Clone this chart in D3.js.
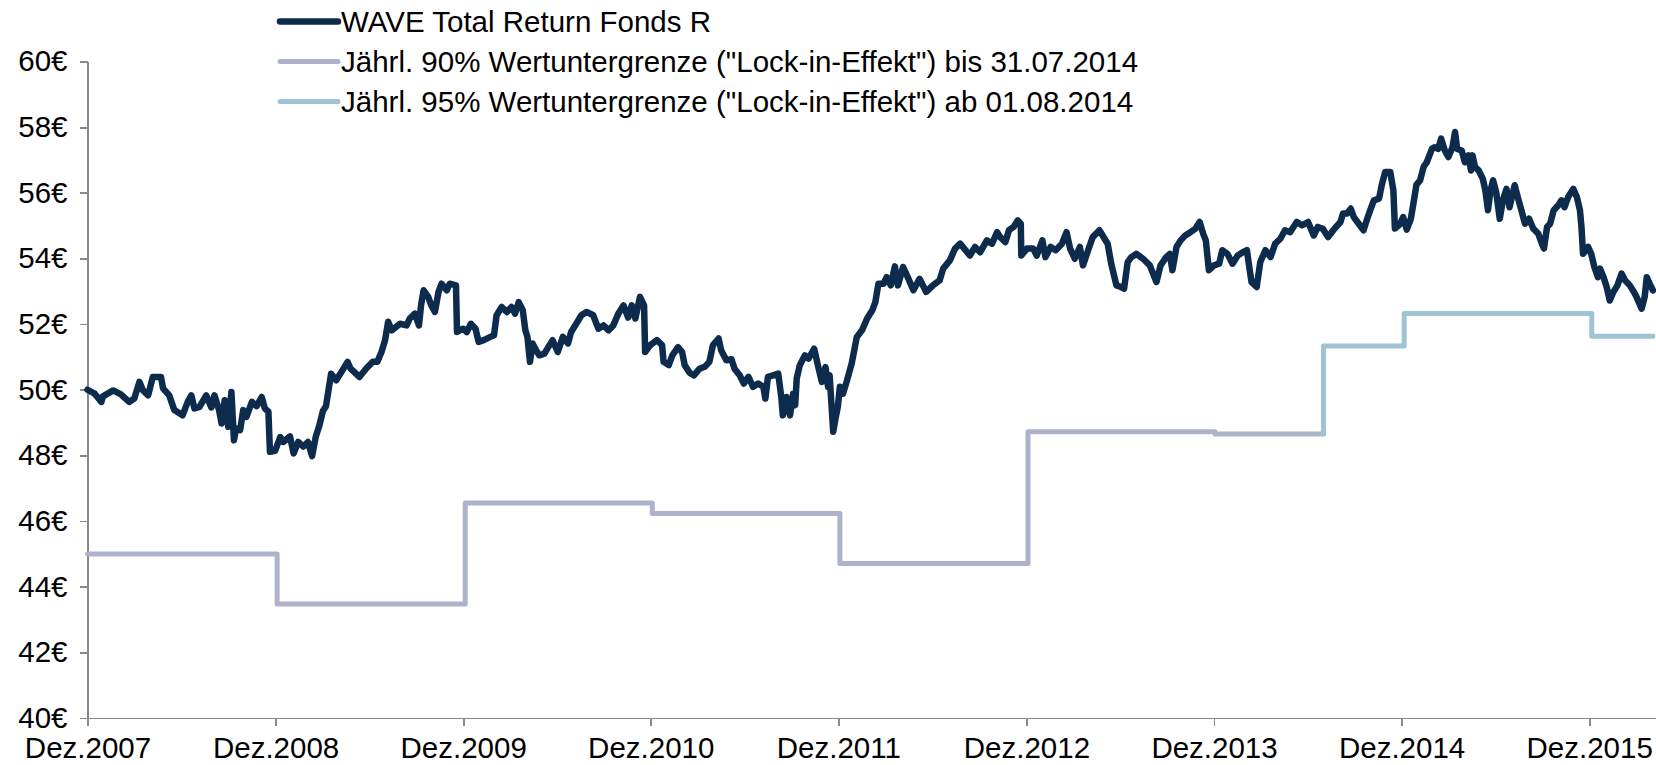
<!DOCTYPE html>
<meta charset="utf-8">
<style>

body { margin: 0; background: #fff; }
.axis path, .axis line { stroke: #898989; stroke-width: 1.75px; shape-rendering: crispEdges; }
.axis text { fill: #000; font-family: "Liberation Sans", Arial, sans-serif; font-size: 29.5px; }
.legend text { fill: #000; font-family: "Liberation Sans", Arial, sans-serif; font-size: 29.5px; }
.line { fill: none; stroke-linejoin: round; stroke-linecap: round; }

</style>
<body>
<script src="https://d3js.org/d3.v7.min.js"></script>
<script>

// WAVE Total Return Fonds R (Kurs in EUR)
var fundDates = [
  "2007-12-31","2008-01-14","2008-01-27","2008-01-30","2008-02-19","2008-03-05","2008-03-21","2008-03-31",
  "2008-04-10","2008-04-17","2008-04-27","2008-05-06","2008-05-22","2008-05-26","2008-06-07","2008-06-17",
  "2008-07-03","2008-07-13","2008-07-20","2008-07-26","2008-08-05","2008-08-18","2008-08-28","2008-09-03",
  "2008-09-12","2008-09-17","2008-09-23","2008-09-30","2008-10-06","2008-10-11","2008-10-15","2008-10-23",
  "2008-10-29","2008-11-04","2008-11-15","2008-11-24","2008-12-04","2008-12-10","2008-12-17","2008-12-20",
  "2008-12-30","2009-01-09","2009-01-15","2009-01-28","2009-02-04","2009-02-13","2009-02-23","2009-03-04",
  "2009-03-12","2009-03-19","2009-03-26","2009-04-02","2009-04-08","2009-04-18","2009-04-28","2009-05-10",
  "2009-05-20","2009-05-26","2009-06-12","2009-06-25","2009-07-08","2009-07-17","2009-07-25","2009-08-01",
  "2009-08-07","2009-08-14","2009-08-30","2009-09-12","2009-09-18","2009-09-28","2009-10-06","2009-10-10",
  "2009-10-15","2009-10-24","2009-10-30","2009-11-06","2009-11-13","2009-11-19","2009-11-29","2009-12-05",
  "2009-12-17","2009-12-19","2009-12-31","2010-01-07","2010-01-15","2010-01-24","2010-01-30","2010-02-09",
  "2010-02-22","2010-03-01","2010-03-06","2010-03-16","2010-03-26","2010-04-04","2010-04-11","2010-04-18",
  "2010-04-26","2010-05-01","2010-05-05","2010-05-10","2010-05-15","2010-05-22","2010-05-28","2010-06-07",
  "2010-06-17","2010-06-23","2010-07-03","2010-07-13","2010-07-23","2010-07-29","2010-08-08","2010-08-18",
  "2010-08-28","2010-09-10","2010-09-20","2010-09-30","2010-10-10","2010-10-19","2010-10-29","2010-11-08",
  "2010-11-17","2010-11-24","2010-12-01","2010-12-10","2010-12-18","2010-12-20","2010-12-30","2011-01-12",
  "2011-01-22","2011-01-25","2011-02-04","2011-02-11","2011-02-22","2011-03-02","2011-03-07","2011-03-17",
  "2011-03-25","2011-04-05","2011-04-16","2011-04-24","2011-05-01","2011-05-12","2011-05-17","2011-05-27",
  "2011-06-06","2011-06-12","2011-06-22","2011-06-30","2011-07-09","2011-07-18","2011-07-28","2011-08-07",
  "2011-08-11","2011-08-16","2011-08-26","2011-09-05","2011-09-11","2011-09-14","2011-09-21","2011-09-28",
  "2011-10-04","2011-10-08","2011-10-11","2011-10-17","2011-10-27","2011-11-03","2011-11-14","2011-11-22",
  "2011-11-29","2011-12-06","2011-12-11","2011-12-14","2011-12-21","2011-12-26","2011-12-30","2012-01-03",
  "2012-01-09","2012-01-16","2012-01-26","2012-02-05","2012-02-15","2012-02-25","2012-03-06","2012-03-12",
  "2012-03-18","2012-03-28","2012-04-03","2012-04-11","2012-04-19","2012-04-25","2012-05-05","2012-05-14",
  "2012-05-25","2012-06-06","2012-06-19","2012-07-02","2012-07-15","2012-07-22","2012-08-04","2012-08-14",
  "2012-08-24","2012-09-12","2012-09-22","2012-10-02","2012-10-15","2012-10-25","2012-11-04","2012-11-10",
  "2012-11-20","2012-11-27","2012-12-06","2012-12-14","2012-12-20","2012-12-21","2013-01-01","2013-01-13",
  "2013-01-20","2013-01-31","2013-02-06","2013-02-16","2013-02-26","2013-03-10","2013-03-19","2013-03-26",
  "2013-04-04","2013-04-14","2013-04-20","2013-04-30","2013-05-09","2013-05-22","2013-06-01","2013-06-07",
  "2013-06-14","2013-06-24","2013-07-03","2013-07-09","2013-07-16","2013-07-23","2013-08-02","2013-08-15",
  "2013-08-28","2013-09-10","2013-09-18","2013-09-29","2013-10-06","2013-10-11","2013-10-19","2013-10-27",
  "2013-11-05","2013-11-15","2013-11-25","2013-12-03","2013-12-10","2013-12-15","2013-12-21","2013-12-31",
  "2014-01-10","2014-01-16","2014-01-26","2014-02-05","2014-02-15","2014-02-25","2014-03-05","2014-03-10",
  "2014-03-14","2014-03-24","2014-03-31","2014-04-10","2014-04-20","2014-04-29","2014-05-09","2014-05-18",
  "2014-05-28","2014-06-10","2014-06-20","2014-07-02","2014-07-13","2014-07-21","2014-07-31","2014-08-10",
  "2014-08-20","2014-09-03","2014-09-08","2014-09-16","2014-09-23","2014-09-29","2014-10-06","2014-10-18",
  "2014-10-24","2014-10-31","2014-11-07","2014-11-17","2014-11-23","2014-11-29","2014-12-09","2014-12-15",
  "2014-12-18","2014-12-28","2015-01-03","2015-01-10","2015-01-18","2015-01-24","2015-01-29","2015-02-05",
  "2015-02-12","2015-02-18","2015-02-28","2015-03-05","2015-03-12","2015-03-18","2015-03-25","2015-04-01",
  "2015-04-09","2015-04-14","2015-04-18","2015-04-27","2015-05-03","2015-05-10","2015-05-15","2015-05-18",
  "2015-05-23","2015-05-30","2015-06-07","2015-06-12","2015-06-17","2015-06-22","2015-06-27","2015-07-03",
  "2015-07-10","2015-07-16","2015-07-23","2015-07-29","2015-08-08","2015-08-14","2015-08-21","2015-08-28",
  "2015-09-05","2015-09-13","2015-09-23","2015-09-30","2015-10-04","2015-10-10","2015-10-16","2015-10-23",
  "2015-11-01","2015-11-07","2015-11-13","2015-11-20","2015-11-30","2015-12-07","2015-12-13","2015-12-16",
  "2015-12-19","2015-12-29","2016-01-04","2016-01-10","2016-01-17","2016-01-21","2016-01-28","2016-02-03",
  "2016-02-09","2016-02-16","2016-02-24","2016-03-03","2016-03-10","2016-03-19","2016-03-27","2016-04-01",
  "2016-04-11","2016-04-17","2016-04-21","2016-04-28","2016-05-03"
];
var fundValues = [
  50.00,49.88,49.63,49.80,49.98,49.86,49.63,49.73,
  50.24,49.98,49.83,50.39,50.39,50.04,49.83,49.38,
  49.22,49.63,49.83,49.43,49.48,49.83,49.46,49.83,
  49.38,48.97,49.68,48.87,49.93,48.46,48.82,48.77,
  49.38,49.17,49.63,49.50,49.78,49.43,49.33,48.11,
  48.14,48.56,48.41,48.58,48.06,48.41,48.27,48.41,
  47.98,48.56,48.90,49.35,49.50,50.49,50.29,50.59,
  50.85,50.64,50.39,50.64,50.85,50.85,51.15,51.51,
  52.07,51.81,52.01,51.96,52.17,52.32,51.96,52.57,
  53.03,52.83,52.57,52.37,52.98,53.23,53.03,53.23,
  53.18,51.76,51.86,51.76,52.01,51.86,51.46,51.51,
  51.61,51.66,52.27,52.52,52.37,52.52,52.32,52.67,
  52.42,51.81,51.61,50.85,51.41,51.20,51.05,51.10,
  51.36,51.51,51.15,51.61,51.41,51.76,52.01,52.27,
  52.37,52.27,51.86,51.96,51.81,51.96,52.32,52.57,
  52.20,52.57,52.17,52.83,52.57,51.15,51.36,51.51,
  51.36,50.85,50.75,51.05,51.30,51.15,50.75,50.51,
  50.44,50.64,50.71,50.85,51.36,51.56,51.20,50.90,
  50.93,50.64,50.44,50.19,50.39,50.09,50.19,50.09,
  49.73,50.39,50.44,50.49,49.78,49.22,49.78,49.22,
  49.88,49.53,50.34,50.75,51.05,50.95,51.25,50.69,
  50.24,50.69,50.09,50.44,48.72,49.17,49.48,50.09,
  49.88,50.24,50.80,51.61,51.81,52.17,52.42,52.67,
  53.23,53.23,53.43,53.18,53.76,53.18,53.74,53.43,
  53.03,53.38,52.98,53.18,53.33,53.69,53.94,54.30,
  54.45,54.09,54.35,54.19,54.55,54.45,54.80,54.65,
  54.50,54.86,54.96,55.16,55.06,54.09,54.30,54.30,
  54.09,54.55,54.04,54.35,54.25,54.45,54.80,54.30,
  53.99,54.35,53.79,54.25,54.65,54.86,54.60,54.45,
  53.84,53.18,53.13,53.08,53.89,54.04,54.14,53.99,
  53.79,53.28,53.79,54.04,54.14,53.64,54.35,54.55,
  54.70,54.80,54.91,55.11,54.75,54.55,53.64,53.79,
  53.84,54.25,54.14,53.84,54.09,54.19,54.25,53.69,
  53.28,53.13,53.89,54.25,54.04,54.45,54.60,54.86,
  54.80,55.11,55.01,55.11,54.70,54.96,54.90,54.65,
  54.86,55.11,55.37,55.37,55.52,55.26,55.11,54.86,
  55.16,55.47,55.77,55.82,56.28,56.63,56.63,56.07,
  54.91,55.05,55.26,54.88,55.21,55.77,56.25,56.38,
  56.80,56.93,57.34,57.39,57.34,57.65,57.29,57.09,
  57.39,57.85,57.34,57.29,56.93,57.14,56.68,57.14,
  56.78,56.68,56.43,56.07,55.47,56.07,56.38,56.02,
  55.21,55.77,56.12,55.56,56.23,55.87,55.47,55.06,
  55.21,54.91,54.75,54.45,54.30,54.96,55.06,55.47,
  55.62,55.77,55.56,55.87,56.12,55.87,55.47,54.96,
  54.14,54.35,54.14,53.74,53.43,53.69,53.43,53.13,
  52.72,52.98,53.18,53.54,53.33,53.18,52.98,52.83,
  52.47,52.83,53.43,53.18,53.03
];

// Jährl. 90% Wertuntergrenze bis 31.07.2014
var floor90Dates  = ["2007-12-31","2009-01-03","2010-01-04","2011-01-03","2012-01-03","2013-01-03","2014-01-02","2014-08-01"];
var floor90Values = [45.00, 43.47, 46.55, 46.23, 44.71, 48.72, 48.65, 48.65];

// Jährl. 95% Wertuntergrenze ab 01.08.2014
var floor95Dates  = ["2014-08-01","2014-08-01","2015-01-05","2016-01-05","2016-05-03"];
var floor95Values = [48.65, 51.33, 52.32, 51.63, 51.63];

var yTicks = [40, 42, 44, 46, 48, 50, 52, 54, 56, 58, 60];
var xTickDates = ["2007-12-31","2008-12-31","2009-12-31","2010-12-31","2011-12-31","2012-12-31","2013-12-31","2014-12-31","2015-12-31"];
var xTickLabels = ["Dez.2007","Dez.2008","Dez.2009","Dez.2010","Dez.2011","Dez.2012","Dez.2013","Dez.2014","Dez.2015"];

var seriesNames  = ["WAVE Total Return Fonds R",
                    "Jährl. 90% Wertuntergrenze (\"Lock-in-Effekt\") bis 31.07.2014",
                    "Jährl. 95% Wertuntergrenze (\"Lock-in-Effekt\") ab 01.08.2014"];
var seriesColors = ["#0d2b4d", "#adb3cb", "#9dc3d4"];

////////////////

var W = 1656, H = 765;
var parse = d3.timeParse("%Y-%m-%d");

function zip(dates, values) {
  return dates.map(function(d, i) { return { date: parse(d), value: values[i] }; });
}
var fund = zip(fundDates, fundValues),
    floor90 = zip(floor90Dates, floor90Values),
    floor95 = zip(floor95Dates, floor95Values);

var x = d3.scaleTime()
    .domain([parse("2007-12-31"), parse("2016-05-09")])
    .range([87.5, W]);
var y = d3.scaleLinear()
    .domain([40, 60])
    .range([718, 61.5]);

var svg = d3.select("body").append("svg")
    .attr("width", W)
    .attr("height", H);

svg.append("g")
    .attr("class", "axis")
    .attr("transform", "translate(" + x.range()[0] + ",0)")
    .call(d3.axisLeft(y).tickValues(yTicks).tickSize(8).tickSizeOuter(0).tickPadding(12)
      .tickFormat(function(d) { return d + "€"; }));

svg.append("g")
    .attr("class", "axis")
    .attr("transform", "translate(0," + y(40) + ")")
    .call(d3.axisBottom(x).tickValues(xTickDates.map(parse)).tickSize(8).tickSizeOuter(0).tickPadding(11)
      .tickFormat(function(d, i) { return xTickLabels[i]; }));

var step = d3.line()
    .curve(d3.curveStepAfter)
    .x(function(d) { return x(d.date); })
    .y(function(d) { return y(d.value); });

var plain = d3.line()
    .x(function(d) { return x(d.date); })
    .y(function(d) { return y(d.value); });

svg.append("path").datum(floor90)
    .attr("class", "line")
    .attr("stroke", seriesColors[1])
    .attr("stroke-width", 5)
    .attr("d", step);

svg.append("path").datum(floor95)
    .attr("class", "line")
    .attr("stroke", seriesColors[2])
    .attr("stroke-width", 5)
    .attr("d", step);

svg.append("path").datum(fund)
    .attr("class", "line")
    .attr("stroke", seriesColors[0])
    .attr("stroke-width", 6.5)
    .attr("d", plain);

// legend
var legend = svg.append("g").attr("class", "legend")
  .selectAll("g")
    .data(seriesNames)
  .enter().append("g")
    .attr("transform", function(d, i) { return "translate(0," + (21.5 + i * 40) + ")"; });

legend.append("line")
    .attr("x1", 280).attr("x2", 338)
    .attr("stroke", function(d, i) { return seriesColors[i]; })
    .attr("stroke-width", function(d, i) { return i == 0 ? 6.5 : 5; })
    .attr("stroke-linecap", "round");

legend.append("text")
    .attr("x", 341)
    .attr("dy", "0.35em")
    .text(function(d) { return d; });

</script>
</body>
